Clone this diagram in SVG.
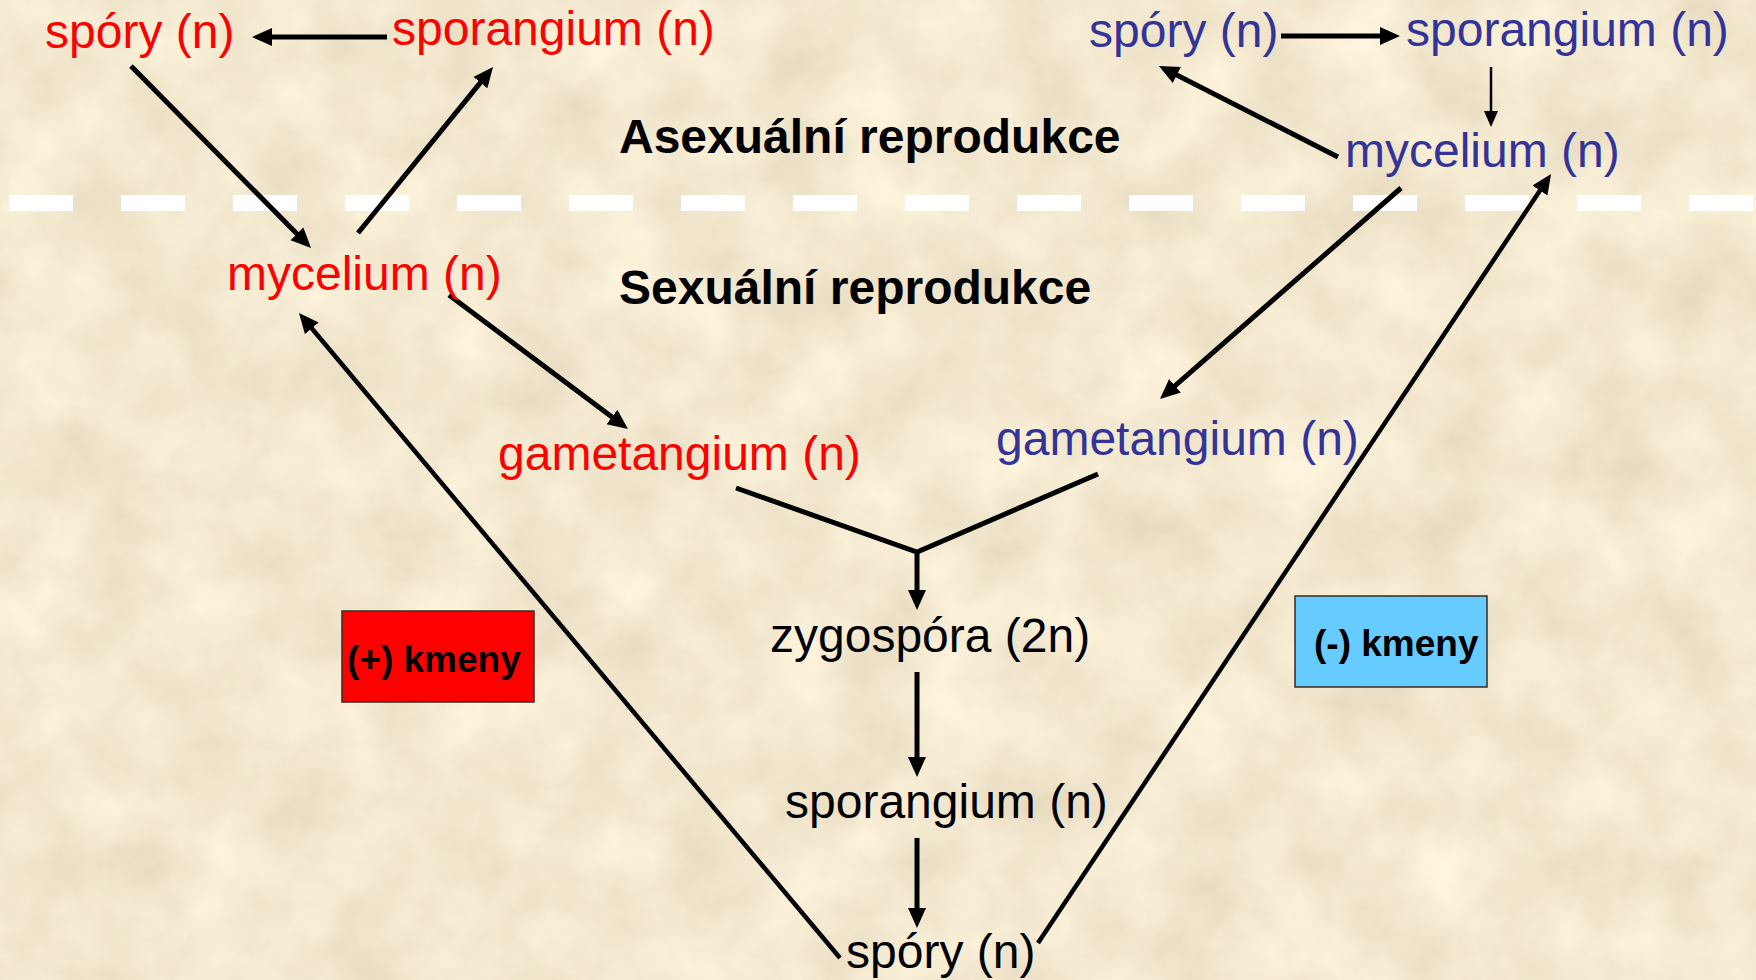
<svg xmlns="http://www.w3.org/2000/svg" width="1756" height="980" viewBox="0 0 1756 980">
<defs>
<filter id="tex" x="0" y="0" width="100%" height="100%" filterUnits="userSpaceOnUse">
<feTurbulence type="fractalNoise" baseFrequency="0.012" numOctaves="5" seed="7" result="n"/>
<feColorMatrix in="n" type="matrix" values="0.28 0 0 0 0.76  0.28 0 0 0 0.675  0.28 0 0 0 0.49  0 0 0 0 1"/>
</filter>
<marker id="ah" markerUnits="userSpaceOnUse" markerWidth="22" markerHeight="20" refX="10" refY="0" viewBox="0 -10 22 20" orient="auto">
<path d="M0,-9 L20,0 L0,9 z" fill="#000"/>
</marker>
<marker id="ahs" markerUnits="userSpaceOnUse" markerWidth="18" markerHeight="16" refX="8" refY="0" viewBox="0 -8 18 16" orient="auto">
<path d="M0,-7 L16,0 L0,7 z" fill="#000"/>
</marker>
<style>
.t{font-family:"Liberation Sans",Arial,sans-serif;font-size:48px}
.b{font-family:"Liberation Sans",Arial,sans-serif;font-size:48px;font-weight:bold;fill:#000}
.k{font-family:"Liberation Sans",Arial,sans-serif;font-size:37px;font-weight:bold;fill:#000}
.red{fill:#FF0000}
.blue{fill:#333399}
.blk{fill:#000}
.c{stroke:#000;stroke-width:5;fill:none}
.cl{stroke:#000;stroke-width:4.5;fill:none}
</style>
</defs>
<rect x="0" y="0" width="1756" height="980" fill="#E9D4A8"/>
<rect x="0" y="0" width="1756" height="980" filter="url(#tex)"/>
<line x1="9" y1="203" x2="1756" y2="203" stroke="#FFFFFF" stroke-width="16" stroke-dasharray="64 48"/>

<g id="connectors">
<line class="c" x1="387" y1="37" x2="262" y2="37" marker-end="url(#ah)"/>
<line class="c" x1="131" y1="66" x2="304" y2="241" marker-end="url(#ah)"/>
<line class="c" x1="358" y1="233" x2="486.7" y2="74.8" marker-end="url(#ah)"/>
<line class="c" x1="449" y1="295" x2="620" y2="423" marker-end="url(#ah)"/>
<line class="c" x1="1281" y1="36" x2="1390" y2="36" marker-end="url(#ah)"/>
<line x1="1491" y1="67" x2="1491" y2="119" stroke="#000" stroke-width="2.5" marker-end="url(#ahs)"/>
<line class="c" x1="1338" y1="157" x2="1167.9" y2="70.5" marker-end="url(#ah)"/>
<line class="c" x1="1401" y1="188" x2="1167.5" y2="392.4" marker-end="url(#ah)"/>
<polyline class="c" points="736,488 917,552 1098,474"/>
<line class="c" x1="917" y1="550" x2="917" y2="600" marker-end="url(#ah)"/>
<line class="c" x1="917" y1="672" x2="917" y2="767" marker-end="url(#ah)"/>
<line class="c" x1="917" y1="838" x2="917" y2="918" marker-end="url(#ah)"/>
<line class="cl" x1="840" y1="958" x2="305.4" y2="320.7" marker-end="url(#ah)"/>
<line class="cl" x1="1038" y1="943" x2="1545.5" y2="182.3" marker-end="url(#ah)"/>
</g>

<g id="title-asex"><text class="b" x="619" y="153">Asexuální reprodukce</text></g>
<g id="title-sex"><text class="b" x="619" y="304">Sexuální reprodukce</text></g>

<g id="red-spory"><text class="t red" x="45" y="48">spóry (n)</text></g>
<g id="red-sporangium"><text class="t red" x="392" y="45">sporangium (n)</text></g>
<g id="red-mycelium"><text class="t red" x="227" y="290">mycelium (n)</text></g>
<g id="red-gametangium"><text class="t red" x="498" y="470">gametangium (n)</text></g>

<g id="blue-spory"><text class="t blue" x="1089" y="47">spóry (n)</text></g>
<g id="blue-sporangium"><text class="t blue" x="1406" y="46">sporangium (n)</text></g>
<g id="blue-mycelium"><text class="t blue" x="1345" y="167">mycelium (n)</text></g>
<g id="blue-gametangium"><text class="t blue" x="996" y="455">gametangium (n)</text></g>

<g id="zygospora"><text class="t blk" x="770" y="652">zygospóra (2n)</text></g>
<g id="sporangium"><text class="t blk" x="785" y="818">sporangium (n)</text></g>
<g id="spory"><text class="t blk" x="846" y="968">spóry (n)</text></g>

<g id="plus-kmeny">
<rect x="342" y="611" width="192" height="91" fill="#FF0000" stroke="#3A2A20" stroke-width="1.5"/>
<text class="k" x="347" y="672">(+) kmeny</text>
</g>
<g id="minus-kmeny">
<rect x="1295" y="596" width="192" height="91" fill="#66CCFF" stroke="#3A2A20" stroke-width="1.5"/>
<text class="k" x="1314" y="656">(-) kmeny</text>
</g>
</svg>
